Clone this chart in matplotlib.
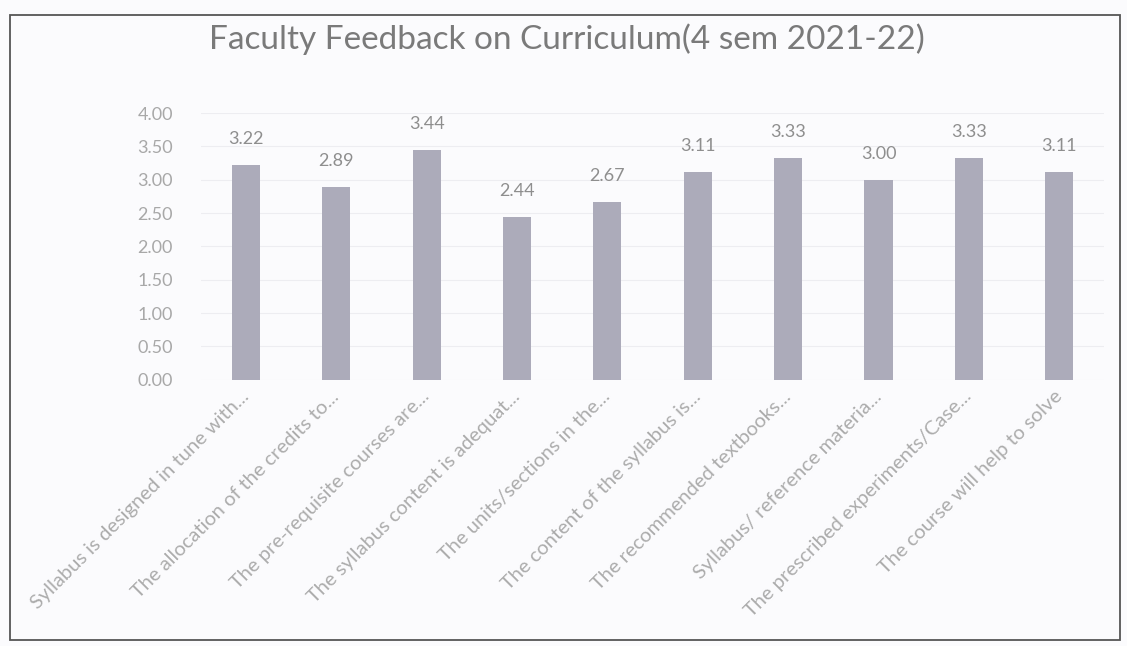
import matplotlib
matplotlib.use("Agg")
import matplotlib.pyplot as plt
from matplotlib.patches import Rectangle

plt.rcParams['font.family'] = ['Lato', 'DejaVu Sans']

categories = [
    "Syllabus is designed in tune with...",
    "The allocation of the credits to...",
    "The pre-requisite courses are...",
    "The syllabus content is adequat...",
    "The units/sections in the...",
    "The content of the syllabus is...",
    "The recommended textbooks...",
    "Syllabus/ reference materia...",
    "The prescribed experiments/Case...",
    "The course will help to solve",
]
values = [3.22, 2.89, 3.44, 2.44, 2.67, 3.11, 3.33, 3.00, 3.33, 3.11]
value_labels = ["3.22", "2.89", "3.44", "2.44", "2.67", "3.11", "3.33", "3.00", "3.33", "3.11"]
yticks = [0.0, 0.5, 1.0, 1.5, 2.0, 2.5, 3.0, 3.5, 4.0]
title = "Faculty Feedback on Curriculum(4 sem 2021-22)"

fig = plt.figure(figsize=(11.27, 6.46), dpi=100)
fig.patch.set_facecolor("#fbfbfd")
ax = fig.add_axes([0.178, 0.412, 0.802, 0.413])
ax.set_facecolor("none")

x = list(range(len(values)))
ax.bar(x, values, width=0.31, color="#acabba", edgecolor="none", zorder=2)
for xi, v, lab in zip(x, values, value_labels):
    ax.annotate(lab, (xi, v), xytext=(0, 13), textcoords="offset points",
                ha="center", va="bottom", fontsize=13, color="#8e8e8e")

ax.set_ylim(0, 4.0)
ax.set_xlim(-0.5, len(values) - 0.5)
ax.set_yticks(yticks)
ax.set_yticklabels([f"{t:.2f}" for t in yticks], fontsize=13, color="#a8a8a8")
ax.yaxis.grid(True, color="#ededf1", linewidth=0.8, zorder=0)
ax.set_axisbelow(True)
ax.tick_params(axis="both", length=0)
ax.tick_params(axis="y", pad=20)
ax.tick_params(axis="x", pad=10)
for s in ax.spines.values():
    s.set_visible(False)

ax.set_xticks(x)
ax.set_xticklabels(categories, rotation=45, ha="right", va="center",
                   rotation_mode="anchor", fontsize=14.5, color="#acacac")

fig.text(0.503, 0.94, title, ha="center", va="center", fontsize=24, color="#7a7a7a")

fig.patches.append(Rectangle((0.009, 0.009), 0.985, 0.968, transform=fig.transFigure,
                             fill=False, edgecolor="#555555", linewidth=1.3))

fig.savefig("out.png", dpi=100, facecolor=fig.get_facecolor())
